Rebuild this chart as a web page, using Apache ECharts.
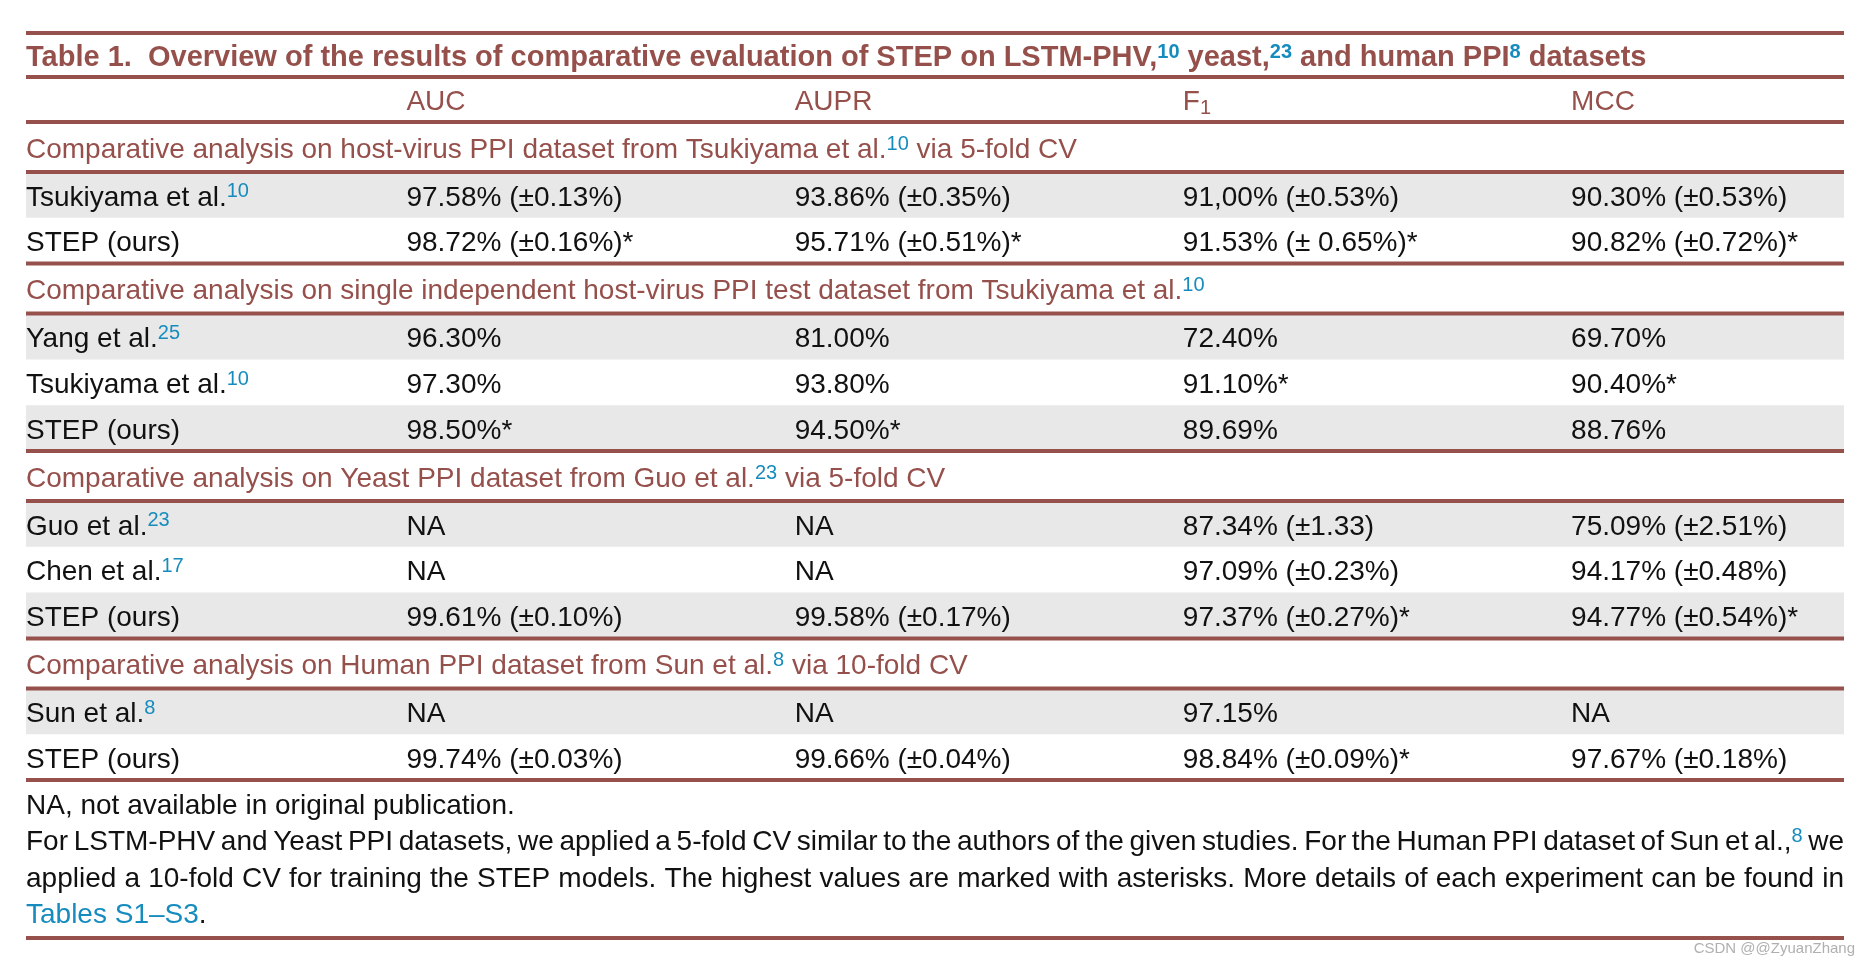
<!DOCTYPE html>
<html>
<head>
<meta charset="utf-8">
<script src="https://cdn.jsdelivr.net/npm/echarts@6/dist/echarts.min.js"></script>
<style>
html,body{margin:0;padding:0;background:#ffffff;}
#chart{width:1874px;height:964px;}
</style>
</head>
<body>
<div id="chart"></div>
<script>
// ---------------- data ----------------
const tableTitle = 'Table 1.  Overview of the results of comparative evaluation of STEP on LSTM-PHV,{s|10} yeast,{s|23} and human PPI{s|8} datasets';
const metricNames = ['AUC', 'AUPR', 'F{sub|1}', 'MCC'];
const sectionTitles = [
  'Comparative analysis on host-virus PPI dataset from Tsukiyama et al.{s|10} via 5-fold CV',
  'Comparative analysis on single independent host-virus PPI test dataset from Tsukiyama et al.{s|10}',
  'Comparative analysis on Yeast PPI dataset from Guo et al.{s|23} via 5-fold CV',
  'Comparative analysis on Human PPI dataset from Sun et al.{s|8} via 10-fold CV'
];
const methodSection = [0, 0, 1, 1, 1, 2, 2, 2, 3, 3];
const methods = ['Tsukiyama et al.{s|10}', 'STEP (ours)', 'Yang et al.{s|25}', 'Tsukiyama et al.{s|10}', 'STEP (ours)',
  'Guo et al.{s|23}', 'Chen et al.{s|17}', 'STEP (ours)', 'Sun et al.{s|8}', 'STEP (ours)'];
const aucValues = ['97.58% (±0.13%)', '98.72% (±0.16%)*', '96.30%', '97.30%', '98.50%*',
  'NA', 'NA', '99.61% (±0.10%)', 'NA', '99.74% (±0.03%)'];
const auprValues = ['93.86% (±0.35%)', '95.71% (±0.51%)*', '81.00%', '93.80%', '94.50%*',
  'NA', 'NA', '99.58% (±0.17%)', 'NA', '99.66% (±0.04%)'];
const f1Values = ['91,00% (±0.53%)', '91.53% (± 0.65%)*', '72.40%', '91.10%*', '89.69%',
  '87.34% (±1.33)', '97.09% (±0.23%)', '97.37% (±0.27%)*', '97.15%', '98.84% (±0.09%)*'];
const mccValues = ['90.30% (±0.53%)', '90.82% (±0.72%)*', '69.70%', '90.40%*', '88.76%',
  '75.09% (±2.51%)', '94.17% (±0.48%)', '94.77% (±0.54%)*', 'NA', '97.67% (±0.18%)'];
const footnoteLines = [
  'NA, not available in original publication.',
  'For LSTM-PHV and Yeast PPI datasets, we applied a 5-fold CV similar to the authors of the given studies. For the Human PPI dataset of Sun et al.,{s|8} we',
  'applied a 10-fold CV for training the STEP models. The highest values are marked with asterisks. More details of each experiment can be found in',
  '{link|Tables S1–S3}.'
];
const footnoteJustified = [false, true, true, false];
const watermark = 'CSDN @@ZyuanZhang';

// ---------------- styles / layout constants ----------------
const FONT = '"Liberation Sans", Arial, Helvetica, sans-serif';
const RULE = '#97514d';
const BROWN = '#96504c';
const BLUE = '#168cbe';
const SHADE = '#e8e8e8';
const INK = '#111111';
// relative row heights (axis units) per row kind
const ROW_HEIGHT = { title: 44, header: 45, section: 50, data: 45.8 };
const TEXT_SHIFT = 3;   // optical baseline nudge for table text

const supStyle = (bold, size) => ({ fontSize: size, fontFamily: FONT, fontWeight: bold ? 'bold' : 'normal', fill: BLUE, lineHeight: 14, verticalAlign: 'top' });
const baseRich = (color, bold, supSize) => ({
  s: supStyle(bold, supSize),
  sub: { fontSize: 20, fontFamily: FONT, fill: color, lineHeight: 18, verticalAlign: 'bottom' },
  link: { fontSize: 28, fontFamily: FONT, fill: BLUE, lineHeight: 32 }
});
const styles = {
  title:   { size: 29, weight: 'bold',   color: BROWN, rich: baseRich(BROWN, true, 20) },
  header:  { size: 28, weight: 'normal', color: BROWN, rich: baseRich(BROWN, false, 20) },
  section: { size: 28, weight: 'normal', color: BROWN, rich: baseRich(BROWN, false, 20) },
  cell:    { size: 28, weight: 'normal', color: INK,   rich: baseRich(INK, false, 20) },
  note:    { size: 28, weight: 'normal', color: INK,   rich: baseRich(INK, false, 20) }
};

// ---------------- build table rows ----------------
const tableRows = [];
tableRows.push({ kind: 'title', text: tableTitle });
tableRows.push({ kind: 'header', cells: [''].concat(metricNames) });
sectionTitles.forEach((t, s) => {
  tableRows.push({ kind: 'section', text: t });
  let k = 0;
  methods.forEach((m, i) => {
    if (methodSection[i] !== s) return;
    tableRows.push({ kind: 'data', shaded: k % 2 === 0,
      cells: [m, aucValues[i], auprValues[i], f1Values[i], mccValues[i]] });
    k++;
  });
});
tableRows[tableRows.length - 1].lastRow = true;
let acc = 0;
tableRows.forEach(r => { r.start = acc; acc += ROW_HEIGHT[r.kind]; r.end = acc; });
const tableExtent = acc;

// ---------------- helpers ----------------
const mctx = document.createElement('canvas').getContext('2d');
function fontOf(size, weight) { return (weight || 'normal') + ' ' + size + 'px ' + FONT; }
function measureRich(str, st) {
  let w = 0, m;
  const re = /\{(\w+)\|([^}]*)\}|([^{]+)/g;
  while ((m = re.exec(str))) {
    if (m[1]) {
      const r = st.rich[m[1]];
      mctx.font = fontOf(r.fontSize, r.fontWeight);
      w += mctx.measureText(m[2]).width;
    } else {
      mctx.font = fontOf(st.size, st.weight);
      w += mctx.measureText(m[3]).width;
    }
  }
  return w;
}
function textEl(str, x, y, st) {
  return {
    type: 'text', x: x, y: y, z2: 5,
    style: {
      text: str, x: 0, y: 0, align: 'left', verticalAlign: 'middle',
      fill: st.color, fontSize: st.size, fontWeight: st.weight, fontFamily: FONT,
      lineHeight: 32, rich: st.rich
    }
  };
}
function ruleEl(x1, x2, y) {
  return { type: 'line', z2: 10, shape: { x1: x1, y1: y, x2: x2, y2: y },
    style: { stroke: RULE, lineWidth: 4 } };
}

function renderTable(params, api) {
  const i = params.dataIndex;
  const row = tableRows[i];
  const cs = params.coordSys;
  const top = api.coord([1, row.start])[1];
  const bottom = api.coord([1, row.end])[1];
  const yc = (top + bottom) / 2 + TEXT_SHIFT;
  const left = cs.x, right = cs.x + cs.width;
  const children = [];
  if (row.shaded) {
    children.push({ type: 'rect', z2: 0, shape: { x: left, y: top, width: cs.width, height: bottom - top }, style: { fill: SHADE } });
  }
  if (row.kind === 'title') {
    children.push(textEl(row.text, left, yc, styles.title));
    children.push(ruleEl(left, right, top));
    children.push(ruleEl(left, right, bottom));
  } else if (row.kind === 'section') {
    children.push(textEl(row.text, left, yc, styles.section));
    children.push(ruleEl(left, right, top));
    children.push(ruleEl(left, right, bottom));
  } else {
    const st = row.kind === 'header' ? styles.header : styles.cell;
    row.cells.forEach((c, k) => {
      if (!c) return;
      const x = k === 0 ? left : api.coord([k, row.start])[0];
      children.push(textEl(c, x, yc, st));
    });
    if (row.kind === 'header') children.push(ruleEl(left, right, bottom));
    if (row.lastRow) children.push(ruleEl(left, right, bottom));
  }
  return { type: 'group', children: children };
}

function renderNotes(params, api) {
  const i = params.dataIndex;
  const str = footnoteLines[i];
  const cs = params.coordSys;
  const yc = api.coord([0, i])[1];
  const left = cs.x, right = cs.x + cs.width;
  const st = styles.note;
  const children = [];
  if (footnoteJustified[i]) {
    const words = str.split(' ');
    const widths = words.map(w => measureRich(w, st));
    const total = widths.reduce((a, b) => a + b, 0);
    const gap = (cs.width - total) / (words.length - 1);
    let x = left;
    words.forEach((w, k) => {
      children.push(textEl(w, x, yc, st));
      x += widths[k] + gap;
    });
  } else {
    children.push(textEl(str, left, yc, st));
  }
  if (i === footnoteLines.length - 1) {
    children.push(ruleEl(left, right, cs.y + cs.height + 4));
  }
  return { type: 'group', children: children };
}

// ---------------- chart ----------------
const chart = echarts.init(document.getElementById('chart'), null, { renderer: 'canvas' });
chart.setOption({
  backgroundColor: '#ffffff',
  animation: false,
  title: {
    text: watermark, right: 14, top: 936,
    textStyle: { fontSize: 15, color: '#b0b0b0', fontWeight: 'normal', fontFamily: FONT }
  },
  grid: [
    { left: 26, right: 30, top: 33, height: 747 },
    { left: 26, right: 30, top: 788, height: 146 }
  ],
  xAxis: [
    { type: 'value', gridIndex: 0, min: 0.02, max: 4.703, show: false },
    { type: 'value', gridIndex: 1, min: 0, max: 1, show: false }
  ],
  yAxis: [
    { type: 'value', gridIndex: 0, inverse: true, show: false, min: 0, max: tableExtent },
    { type: 'category', gridIndex: 1, inverse: true, show: false, data: footnoteLines.map((r, i) => 'n' + i) }
  ],
  series: [
    { type: 'custom', xAxisIndex: 0, yAxisIndex: 0, clip: false, silent: true,
      encode: { x: 0, y: 1 }, data: tableRows.map(r => [1, (r.start + r.end) / 2]), renderItem: renderTable },
    { type: 'custom', xAxisIndex: 1, yAxisIndex: 1, clip: false, silent: true,
      encode: { x: 0, y: 1 }, data: footnoteLines.map((r, i) => [0, i]), renderItem: renderNotes }
  ]
});
</script>
</body>
</html>
